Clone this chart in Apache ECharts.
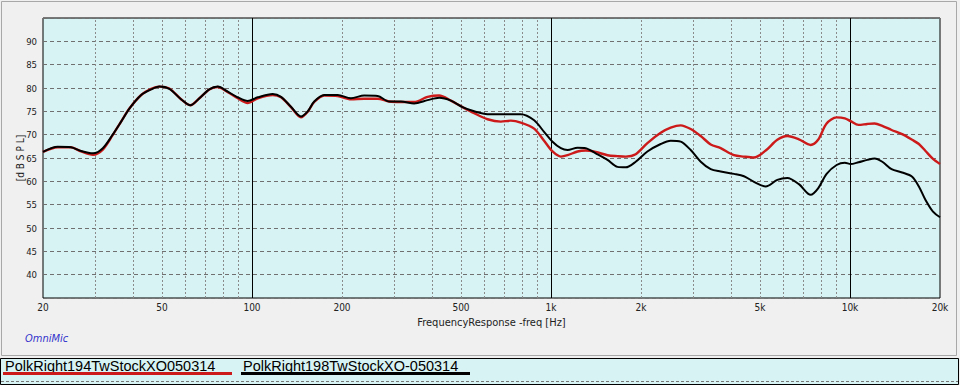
<!DOCTYPE html>
<html>
<head>
<meta charset="utf-8">
<script src="https://cdn.jsdelivr.net/npm/echarts@6/dist/echarts.min.js"></script>
<style>
html,body{margin:0;padding:0;background:#f0f0f0;}
#c{width:960px;height:385px;}
</style>
</head>
<body>
<div id="c"></div>
<script>
// Frequencies (Hz)
const freqs = [20,22.4,24.8,26.8,29.4,31.7,34.2,36.5,38.9,42.6,46.0,49.0,52.9,57.9,62.2,66.7,72.0,76.8,83.0,89.6,96.7,104.5,117.3,125.0,135.0,145.8,153.6,161.5,174.4,193.4,214.2,237.3,263.2,287.7,314.8,348.6,386.6,422.7,462.6,506.0,553.4,613.5,679.6,733.9,792.6,878.3,948.2,1012,1079,1136,1227,1307,1411,1545,1669,1778,1920,2101,2328,2514,2715,2933,3168,3421,3694,4093,4420,4773,5224,5715,6171,6748,7385,7823,8352,9021,9616,10046,10684,11424,12085,12823,13772,14940,16140,16996,17890,18950,20000];
// PolkRight198TwStockXO-050314 (black)
const blackSPL = [66.3,67.4,67.3,66.5,66.0,67.1,70.0,72.8,75.6,78.5,79.7,80.3,79.8,77.6,76.3,77.8,79.7,80.3,79.2,78.0,77.2,78.0,78.7,78.1,76.0,73.9,75.0,77.1,78.5,78.5,77.8,78.4,78.3,77.1,77.1,76.7,77.4,77.9,77.3,75.9,75.0,74.4,74.4,74.4,74.4,73.1,70.6,68.5,67.1,66.7,67.2,67.1,66.0,64.6,63.1,63.0,64.2,66.4,68.0,68.7,68.5,66.7,64.2,62.6,62.1,61.6,61.1,59.9,58.9,60.3,60.7,59.4,57.1,58.5,61.6,63.5,64.0,63.7,64.1,64.6,64.9,64.2,62.6,61.9,61.0,58.9,56.0,53.5,52.3];
// PolkRight194TwStockXO050314 (red)
const redSPL = [66.3,67.3,67.3,66.4,65.7,66.8,69.9,72.8,75.6,78.5,79.8,80.3,79.9,77.6,76.3,77.8,79.7,80.2,79.1,77.8,76.8,77.8,78.5,78.0,75.9,73.7,74.9,77.0,78.4,78.3,77.6,77.7,77.7,77.1,77.0,77.0,78.1,78.4,77.3,75.9,74.6,73.3,72.8,73.0,72.6,71.3,68.7,66.4,65.3,65.6,66.4,66.6,66.3,65.6,65.4,65.3,65.8,68.2,70.4,71.5,72.0,71.2,69.7,67.9,67.1,65.6,65.3,65.1,66.6,68.9,69.7,69.0,67.8,68.9,72.4,73.7,73.5,72.9,72.1,72.3,72.4,71.9,71.0,70.1,68.9,68.0,66.5,64.8,63.7];

const seriesNames = ['PolkRight194TwStockXO050314','PolkRight198TwStockXO-050314'];
const xTickLabels = [20,50,100,200,500,1000,2000,5000,10000,20000];
const majorGridFreqs = [100,1000,10000];
const minorGridFreqs = [30,40,50,60,70,80,90,200,300,400,500,600,700,800,900,2000,3000,4000,5000,6000,7000,8000,9000];
const yTicks = [40,45,50,55,60,65,70,75,80,85,90];

const narrow = "'Liberation Sans Narrow','DejaVu Sans Condensed','Arial Narrow',sans-serif";

const chart = echarts.init(document.getElementById('c'), null, {renderer:'svg'});

const vLines = [];
minorGridFreqs.forEach(f => vLines.push({xAxis:f, lineStyle:{color:'#8a8a8a', type:[2,2], width:1}}));
majorGridFreqs.forEach(f => vLines.push({xAxis:f, lineStyle:{color:'#000', type:'solid', width:1}}));

chart.setOption({
  backgroundColor:'#f0f0f0',
  animation:false,
  grid:{left:43, top:18, right:20, bottom:87, outerBoundsMode:'none', containLabel:false,
        show:true, backgroundColor:'#d8f3f3', borderColor:'#000', borderWidth:1},
  xAxis:{
    type:'log', logBase:10, min:20, max:20000,
    name:'FrequencyResponse -freq [Hz]', nameLocation:'middle', nameGap:15,
    nameTextStyle:{fontFamily:narrow, fontSize:11, color:'#222'},
    axisLine:{show:false}, axisTick:{show:false}, splitLine:{show:false}, minorTick:{show:false},
    axisLabel:{customValues:xTickLabels, fontFamily:narrow, fontSize:10, color:'#222', margin:4,
      formatter:v => v>=1000 ? (v/1000)+'k' : String(v)}
  },
  yAxis:{
    type:'value', min:35, max:95, interval:5,
    name:'[d B S P L]', nameLocation:'middle', nameGap:18, nameRotate:90, nameMoveOverlap:false,
    nameTextStyle:{fontFamily:narrow, fontSize:10, color:'#222'},
    axisLine:{show:false}, axisTick:{show:false},
    axisLabel:{fontFamily:narrow, fontSize:9.5, color:'#222', margin:6,
      formatter:v => yTicks.indexOf(v)>=0 ? String(v) : ''},
    splitLine:{show:true, lineStyle:{color:'#707070', type:[4,3], width:1}}
  },
  series:[
    {name:seriesNames[0], type:'line', data:freqs.map((f,i)=>[f,redSPL[i]]), showSymbol:false, smooth:0.3,
     lineStyle:{color:'#cc1a1a', width:2.4}, z:3,
     markLine:{silent:true, symbol:'none', label:{show:false}, data:vLines, z:1}},
    {name:seriesNames[1], type:'line', data:freqs.map((f,i)=>[f,blackSPL[i]]), showSymbol:false, smooth:0.3,
     lineStyle:{color:'#000', width:2}, z:4}
  ],
  graphic:[
    {type:'rect', shape:{x:1.5, y:1.5, width:955, height:354}, style:{fill:'none', stroke:'#a8a8a8', lineWidth:1}, silent:true},
    {type:'text', left:25, top:333, style:{text:'OmniMic', fill:'#3333cc', font:"italic 11px "+narrow}},
    {type:'rect', shape:{x:0.5, y:358.5, width:958, height:26}, style:{fill:'#d8f3f3', stroke:'#000', lineWidth:1}, silent:true},
    {type:'line', shape:{x1:1, y1:381.5, x2:958, y2:381.5}, style:{stroke:'#777', lineDash:[3,2], lineWidth:1}, silent:true},
    {type:'text', left:5, top:358, style:{text:seriesNames[0], fill:'#000', font:"14.5px 'Liberation Sans',Arial,sans-serif"}},
    {type:'rect', shape:{x:3, y:372, width:229, height:3}, style:{fill:'#cc1a1a'}, silent:true},
    {type:'text', left:243, top:358, style:{text:seriesNames[1], fill:'#000', font:"14.5px 'Liberation Sans',Arial,sans-serif"}},
    {type:'rect', shape:{x:241, y:372, width:229, height:3}, style:{fill:'#000'}, silent:true}
  ]
});
</script>
</body>
</html>
